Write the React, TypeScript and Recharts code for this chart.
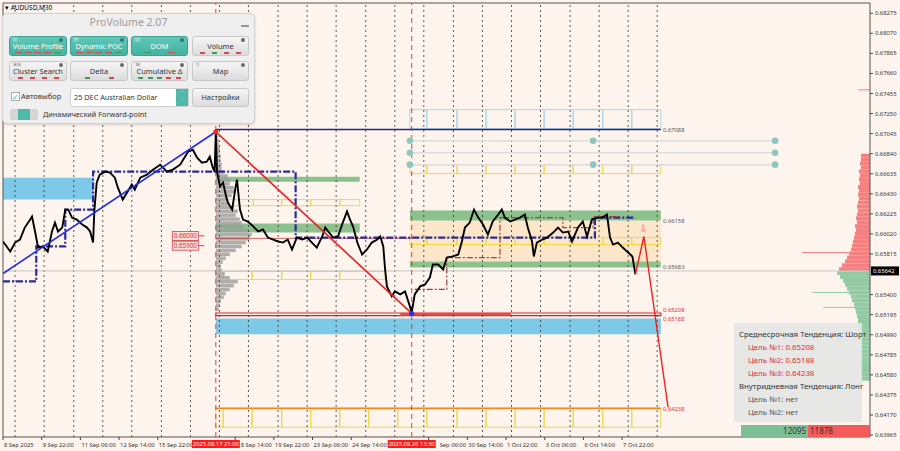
import React from 'react'
import {
  ComposedChart,
  Line,
  XAxis,
  YAxis,
  ReferenceArea,
  ReferenceLine,
  ReferenceDot,
} from 'recharts'

const BG = '#fdf4ee'
const FONT = '"Noto Sans", Roboto, sans-serif'

// x = bar number of the M30 chart (0 = 8 Sep 2025 00:00), y = AUDUSD price
const X_MAX = 1434
const Y_MIN = 0.63945
const Y_MAX = 0.6838

const TIME_TICKS = [0, 64, 128, 192, 256, 384, 448, 512, 576, 704, 768, 832, 896, 960, 1024, 352, 676]
// labels partly hidden behind the red time markers keep only their visible part
const TIME_LABELS = [
  '8 Sep 2025', '9 Sep 22:00', '11 Sep 06:00', '12 Sep 14:00', '15 Sep 22:00', '8 Sep 14:00',
  '19 Sep 22:00', '23 Sep 06:00', '24 Sep 14:00', 'Sep 06:00', '30 Sep 14:00', '1 Oct 22:00',
  '3 Oct 06:00', '6 Oct 14:00', '7 Oct 22:00', '2025.09.17 21:00', '2025.09.26 13:30',
]
const LABEL_SHIFT: Record<string, number> = { '8 Sep 14:00': 4.5, 'Sep 06:00': 10 }
const MARKED_TIMES = ['2025.09.17 21:00', '2025.09.26 13:30']

const PRICE_TICKS = [
  0.68275, 0.6807, 0.67865, 0.6766, 0.67455, 0.6725, 0.67045, 0.6684, 0.66635, 0.6643, 0.66225,
  0.6602, 0.65815, 0.654, 0.65195, 0.6499, 0.64785, 0.6458, 0.64375, 0.6417, 0.63965,
]
const LAST_PRICE = 0.65642

const GRID_BARS = [20, 68, 117, 165, 213, 262, 310, 358, 406, 455, 503, 551, 600, 648, 696, 745, 793, 841, 889, 938, 986, 1034, 1082]

const PRICE_BARS = [
  0, 12, 20, 28, 36, 45, 48, 53, 58, 66, 74, 81, 86, 91, 98, 103, 108, 114, 122, 131,
  139, 144, 149, 151, 155, 160, 169, 177, 185, 190, 198, 205, 213, 218, 227, 238, 248, 260, 271, 281,
  293, 301, 306, 314, 321, 329, 337, 342, 347, 350, 352, 354,
  359, 364, 369, 372, 379, 384, 387, 392, 397, 405, 414, 422, 430, 438, 447, 455, 463, 471, 478, 486,
  495, 503, 511, 519, 528, 533, 538, 546, 554, 562, 569, 574, 579, 586, 594, 602, 610, 619, 624, 629,
  632, 635, 643, 648, 657, 665, 673, 676,
  681, 690, 698, 706, 711, 720, 728, 734, 744, 753, 759, 764, 772, 779, 786, 794, 802, 810, 819, 825,
  830, 839, 847, 855, 863, 868, 875, 878, 883, 892, 900, 910, 918, 926, 935, 941, 946, 951, 959, 966,
  974, 982, 991, 999, 1004, 1009, 1017, 1025, 1034, 1041, 1046,
]
const PRICE_VALUES = [
  0.65943, 0.65841, 0.65932, 0.65963, 0.66085, 0.66167, 0.66198, 0.66045, 0.65881, 0.65892,
  0.65841, 0.66045, 0.66136, 0.66045, 0.66085, 0.66269, 0.66269, 0.66187, 0.66167, 0.66116,
  0.66085, 0.66045, 0.65932, 0.66249, 0.66545, 0.66626, 0.66657, 0.66647, 0.66595, 0.66493,
  0.66371, 0.66442, 0.66524, 0.66473, 0.66595, 0.66626, 0.66677, 0.66728, 0.66657, 0.66677,
  0.66728, 0.6681, 0.66861, 0.66881, 0.66799, 0.66748, 0.66759, 0.6681, 0.66697, 0.66657,
  0.6706, 0.66657,
  0.66504, 0.66544, 0.66402, 0.6634, 0.66269, 0.66473, 0.66575, 0.66269, 0.66167, 0.66147,
  0.66096, 0.66045, 0.66065, 0.65983, 0.65963, 0.65943, 0.65932, 0.65963, 0.65861, 0.65983,
  0.65963, 0.65983, 0.65932, 0.65881, 0.65994, 0.66085, 0.66045, 0.65983, 0.65994, 0.66136,
  0.66249, 0.66167, 0.66096, 0.65932, 0.6581, 0.65861, 0.65932, 0.65963, 0.65994, 0.65892,
  0.65657, 0.65484, 0.65382, 0.65433, 0.65402, 0.65433, 0.6528, 0.65218,
  0.65402, 0.65484, 0.65504, 0.65575, 0.65708, 0.65708, 0.65657, 0.65779, 0.6579, 0.6581,
  0.65943, 0.66085, 0.66136, 0.66269, 0.66187, 0.66116, 0.66014, 0.66147, 0.66218, 0.66269,
  0.66187, 0.66147, 0.66167, 0.66187, 0.66218, 0.66085, 0.65943, 0.6579, 0.65932, 0.65963,
  0.65983, 0.66034, 0.66085, 0.66034, 0.66045, 0.65943, 0.66014, 0.66085, 0.66147, 0.65994,
  0.66167, 0.66187, 0.66187, 0.66218, 0.65983, 0.65912, 0.65932, 0.65881, 0.6583, 0.6579,
  0.65606,
]

const TREND_UP_BARS = [0, 352]
const TREND_UP_VALUES = [0.65616, 0.67064]
const TREND_DOWN_BARS = [352, 676]
const TREND_DOWN_VALUES = [0.67064, 0.65208]
const FORECAST_BARS = [1046, 1060, 1100]
const FORECAST_VALUES = [0.65606, 0.65994, 0.64249]

const POC_BARS = [0, 55, 103, 149, 484, 979, 1046]
const POC_VALUES = [0.65535, 0.65892, 0.66269, 0.66657, 0.65983, 0.66187, 0.66187]
const DAY_POC_BARS = [681, 734, 822, 926, 976, 1021]
const DAY_POC_VALUES = [0.65453, 0.65779, 0.66187, 0.66085, 0.66198, 0.66198]

// session volume profile (left, from 17 Sep)
const LEFT_LEVELS = [
  0.6703, 0.6699, 0.6695, 0.6691, 0.6687, 0.6683, 0.6679, 0.6675, 0.6671, 0.6667, 0.6663, 0.6659,
  0.6655, 0.6651, 0.6647, 0.6643, 0.6639, 0.6635, 0.6631, 0.6627, 0.6623, 0.6619, 0.6615, 0.6611,
  0.6607, 0.6603, 0.6599, 0.6595, 0.6591, 0.6587, 0.6583, 0.6579, 0.6575, 0.6571, 0.6567, 0.6563,
  0.6559, 0.6555, 0.6551, 0.6547, 0.6543, 0.6539, 0.6535, 0.6531, 0.6527,
]
const LEFT_VOLUMES = [
  2, 3, 3, 4, 4, 5, 5, 6, 6, 8, 12, 15, 14, 18, 20, 16, 12, 14, 18, 22, 20, 24, 26, 28,
  33, 36, 34, 30, 26, 20, 14, 10, 7, 5, 6, 9, 14, 22, 18, 14, 10, 8, 5, 4, 3,
]

// DOM profile at the right edge
const ASK_LEVELS = [
  0.6684, 0.668, 0.6676, 0.6672, 0.6668, 0.6664, 0.666, 0.6656, 0.6652, 0.6648, 0.6644, 0.664,
  0.6636, 0.6632, 0.6628, 0.6624, 0.662, 0.6616, 0.6612, 0.6608, 0.6604, 0.66, 0.6596, 0.6592,
  0.6588, 0.6584, 0.658, 0.6576, 0.6572, 0.6568,
]
const ASK_VOLUMES = [9, 9, 10, 9, 11, 10, 11, 10, 12, 11, 12, 11, 12, 13, 12, 13, 14, 13, 15, 14, 15, 16, 17, 18, 19, 21, 23, 25, 28, 31]
const BID_LEVELS = [
  0.6564, 0.656, 0.6556, 0.6552, 0.6548, 0.6544, 0.654, 0.6536, 0.6532, 0.6528, 0.6524, 0.652,
  0.6516, 0.6512, 0.6508, 0.6504, 0.65, 0.6496, 0.6492, 0.6488, 0.6484, 0.648, 0.6476, 0.6472,
  0.6468, 0.6464, 0.646, 0.6456,
]
const BID_VOLUMES = [33, 30, 27, 25, 23, 21, 19, 18, 16, 15, 14, 13, 12, 12, 11, 11, 10, 10, 10, 9, 10, 9, 9, 10, 9, 9, 9, 9]
const SPIKE_LEVELS = [0.67493, 0.6583, 0.65422, 0.65269]
const SPIKE_VOLUMES = [12, 68, 58, 47]
const VOL_TO_BARS = 1.65

// box cells (bar edges)
const CELLS_RIGHT = [673, 701, 751, 799, 847, 895, 943, 992, 1040, 1088]
const CELLS_LEFT_TOP = [352, 364, 414, 461, 509, 557, 590]
const CELLS_LEFT_LOW = [352, 364, 412, 461, 509, 557, 632]
const CELLS_BOTTOM = [352, 364, 412, 461, 509, 557, 605, 653, 701, 751, 799, 847, 895, 943, 992, 1040, 1088]

const DOT_ROWS = [0.66973, 0.6685, 0.66728]
const DOT_BARS = [[673, 976, 1277], [673, 1277], [673, 976, 1277]]

const SIDE_LEVELS = [0.67088, 0.66158, 0.65683, 0.65208, 0.65188, 0.64238]
const SIDE_LABELS = ['0.67088', '0.66158', '0.65683', '0.65208', '0.65188', '0.64238']
const SIDE_COLORS = ['#555', '#555', '#555', '#e03030', '#e03030', '#e03030']
const SIDE_DY = [2.5, 2.5, 2.5, -1, 5.5, 2.5]

const ROUND_LEVELS = [0.66, 0.659]
const ROUND_LABELS = ['0.66000', '0.65900']

const INFO_LINES = [
  { text: 'Среднесрочная Тенденция: Шорт', indent: 0, color: '#333' },
  { text: 'Цель №1: 0.65208', indent: 9, color: '#e03030' },
  { text: 'Цель №2: 0.65188', indent: 9, color: '#e03030' },
  { text: 'Цель №3: 0.64238', indent: 9, color: '#e03030' },
  { text: 'Внутридневная Тенденция: Лонг', indent: 0, color: '#333' },
  { text: 'Цель №1: нет', indent: 9, color: '#555' },
  { text: 'Цель №2: нет', indent: 9, color: '#555' },
]
const BUY_VOLUME = 12095
const SELL_VOLUME = 11878

const PANEL_BUTTONS = [
  { label: 'Volume Profile', tag: 'V', on: true, marks: 'rrrrg' },
  { label: 'Dynamic POC', tag: 'P', on: true, marks: 'rrrrg' },
  { label: 'DOM', tag: 'D', on: true, marks: 'gr' },
  { label: 'Volume', tag: '', on: false, marks: 'rgrr' },
  { label: 'Cluster Search', tag: 'B N', on: false, marks: 'rrrr' },
  { label: 'Delta', tag: '', on: false, marks: 'gr' },
  { label: 'Cumulative Δ', tag: 'M', on: false, marks: 'gggrr' },
  { label: 'Map', tag: 'I', on: false, marks: '' },
]

const toPoints = (xs: number[], ys: number[]) => xs.map((x, i) => ({ x, p: ys[i] }))

function TimeTick(props: any) {
  const { x, y, payload } = props
  const label = TIME_LABELS[TIME_TICKS.indexOf(payload.value)]
  if (MARKED_TIMES.includes(label)) {
    return (
      <g>
        <rect x={x - 24} y={y + 3} width={48} height={8} fill="#ff1a1a" />
        <text x={x} y={y + 9.3} textAnchor="middle" fontSize={5.8} fill="#fff" fontFamily={FONT}>{label}</text>
      </g>
    )
  }
  return (
    <g>
      <line x1={x} x2={x} y1={y} y2={y + 3} stroke="#444" />
      <text x={x + 1 + (LABEL_SHIFT[label] || 0)} y={y + 9.5} fontSize={5.8} fill="#333" fontFamily={FONT}>{label}</text>
    </g>
  )
}

function PriceTick(props: any) {
  const { x, y, payload } = props
  return (
    <g>
      <line x1={x} x2={x + 3} y1={y} y2={y} stroke="#444" />
      <text x={x + 5} y={y + 2} fontSize={5.8} fill="#333" fontFamily={FONT}>{payload.value.toFixed(5)}</text>
    </g>
  )
}

function cellBoxes(cells: number[], top: number, bottom: number, stroke: string, key: string) {
  return cells.slice(0, -1).map((c, i) => (
    <ReferenceArea
      key={key + i}
      x1={c}
      x2={cells[i + 1]}
      y1={bottom}
      y2={top}
      fill="none"
      stroke={stroke}
      strokeWidth={1}
    />
  ))
}

function PanelButton({ b, left, top, width }: any) {
  return (
    <div
      style={{
        position: 'absolute', left, top, width, height: 20, boxSizing: 'border-box', borderRadius: 3,
        background: b.on ? 'linear-gradient(#5fc7b7, #45b2a2)' : 'linear-gradient(#f6f6f6, #dcdcdc)',
        border: '1px solid ' + (b.on ? '#3ea090' : '#c8c8c8'),
        color: b.on ? '#fff' : '#333', fontSize: 7.4, lineHeight: '19px', textAlign: 'center',
      }}
    >
      {b.tag && (
        <span style={{
          position: 'absolute', left: 2, top: 0, fontSize: 3.8, lineHeight: '5px', padding: '0 2px',
          color: b.on ? '#dff3f0' : '#666', background: b.on ? 'rgba(255,255,255,0.18)' : '#e6e6e6',
        }}>{b.tag}</span>
      )}
      <span style={{
        position: 'absolute', right: 3, top: 1, width: 4, height: 4, borderRadius: 2,
        background: b.on ? '#2f7a70' : '#6a6a6a',
      }} />
      {b.label}
      <div style={{ position: 'absolute', left: 4, right: 4, bottom: 1, height: 2, display: 'flex', justifyContent: 'space-around' }}>
        {b.marks.split('').map((m: string, i: number) => (
          <span key={i} style={{ width: b.on ? 7 : 5, height: b.on ? 1 : 2, background: m === 'r' ? '#d24a4a' : '#3d9a55' }} />
        ))}
      </div>
    </div>
  )
}

function Panel() {
  const cols = [6, 67, 128, 189]
  const widths = [58, 58, 57, 57]
  return (
    <div style={{
      position: 'absolute', left: 2, top: 13, width: 253, height: 111, boxSizing: 'border-box',
      background: '#efefef', border: '1px solid #d2d2d2', borderRadius: 5,
      boxShadow: '0 1px 3px rgba(0,0,0,0.15)', fontFamily: FONT,
    }}>
      <div style={{ position: 'absolute', left: 0, right: 0, top: 1, textAlign: 'center', fontSize: 10.5, color: '#9c9c9c' }}>
        ProVolume 2.07
      </div>
      <div style={{ position: 'absolute', right: 5, top: 11, width: 8, height: 1.5, background: '#999' }} />
      {PANEL_BUTTONS.map((b, i) => (
        <PanelButton key={b.label} b={b} left={cols[i % 4]} top={i < 4 ? 22 : 47} width={widths[i % 4]} />
      ))}
      <div style={{
        position: 'absolute', left: 8, top: 78, width: 7, height: 7, background: '#fff', border: '1px solid #aaa',
        fontSize: 8, lineHeight: '7px', color: '#3aa898', textAlign: 'center',
      }}>✓</div>
      <div style={{ position: 'absolute', left: 18, top: 77, fontSize: 7.5, color: '#333' }}>Автовыбор</div>
      <div style={{
        position: 'absolute', left: 67, top: 74, width: 119, height: 19, boxSizing: 'border-box', background: '#fff',
        border: '1px solid #cfcfcf', borderRadius: 2, fontSize: 7.3, lineHeight: '17px', paddingLeft: 3, color: '#333',
      }}>
        25 DEC Australian Dollar
        <div style={{
          position: 'absolute', right: 0, top: 0, width: 12, height: 17, background: '#4fb9a9',
          color: '#fff', fontSize: 5, lineHeight: '8px', textAlign: 'center',
        }}>˄<br />˅</div>
      </div>
      <div style={{
        position: 'absolute', left: 189, top: 74, width: 57, height: 19, boxSizing: 'border-box', borderRadius: 3,
        background: 'linear-gradient(#f6f6f6, #dcdcdc)', border: '1px solid #c8c8c8', fontSize: 7.3,
        lineHeight: '17px', textAlign: 'center', color: '#333',
      }}>Настройки</div>
      <div style={{ position: 'absolute', left: 7, top: 95, width: 28, height: 11, borderRadius: 2, background: '#d4d4d4' }}>
        <div style={{ position: 'absolute', left: 8, top: 0, width: 12, height: 11, background: '#4fb9a9' }} />
      </div>
      <div style={{ position: 'absolute', left: 40, top: 95, fontSize: 7.3, color: '#333' }}>Динамический Forward-point</div>
    </div>
  )
}

function InfoBox() {
  return (
    <div style={{
      position: 'absolute', left: 734, top: 323, width: 128, height: 99, background: 'rgba(229,229,229,0.93)',
      fontFamily: FONT, fontSize: 7.8, paddingTop: 5, boxSizing: 'border-box',
    }}>
      {INFO_LINES.map((l) => (
        <div key={l.text + l.indent} style={{ height: 13, lineHeight: '13px', paddingLeft: 5 + l.indent, color: l.color, whiteSpace: 'nowrap' }}>
          {l.text}
        </div>
      ))}
    </div>
  )
}

export default function App() {
  const price = toPoints(PRICE_BARS, PRICE_VALUES)
  return (
    <div style={{ position: 'absolute', left: 0, top: 0, width: 900, height: 451, background: BG, overflow: 'hidden', fontFamily: FONT }}>
      <ComposedChart width={900} height={451} margin={{ top: 3, right: 0, bottom: 0, left: 3 }}>
        <XAxis
          dataKey="x"
          type="number"
          domain={[0, X_MAX]}
          ticks={TIME_TICKS}
          interval={0}
          height={14}
          tickSize={0}
          tickMargin={0}
          tick={<TimeTick />}
          axisLine={{ stroke: '#555' }}
          tickLine={false}
          allowDataOverflow
        />
        <YAxis
          type="number"
          orientation="right"
          domain={[Y_MIN, Y_MAX]}
          ticks={PRICE_TICKS}
          interval={0}
          width={30}
          tickSize={0}
          tickMargin={0}
          tick={<PriceTick />}
          axisLine={{ stroke: '#555' }}
          tickLine={false}
          allowDataOverflow
        />

        {/* zones */}
        <ReferenceArea x1={0} x2={150} y1={0.66371} y2={0.66595} fill="#7ec8e8" fillOpacity={1} />
        <ReferenceArea x1={352} x2={590} y1={0.66554} y2={0.66605} fill="#8cc18e" fillOpacity={1} />
        <ReferenceArea x1={352} x2={590} y1={0.66035} y2={0.66126} fill="#8cc18e" fillOpacity={1} />
        <ReferenceArea x1={673} x2={1088} y1={0.65739} y2={0.66157} fill="#fce6c9" fillOpacity={1} />
        <ReferenceArea x1={673} x2={1088} y1={0.66157} y2={0.66259} fill="#8cc18e" fillOpacity={1} />
        <ReferenceArea x1={673} x2={1088} y1={0.65678} y2={0.65739} fill="#8cc18e" fillOpacity={1} />
        <ReferenceArea x1={352} x2={1088} y1={0.64994} y2={0.65157} fill="#7ec8e8" fillOpacity={1} />

        {/* vertical grid */}
        {GRID_BARS.map((g) => (
          <ReferenceLine key={'g' + g} x={g} stroke="#333" strokeDasharray="2 3" strokeWidth={0.8} />
        ))}
        <ReferenceLine x={0} stroke="#555" />
        <ReferenceLine y={Y_MAX} stroke="#555" />
        <ReferenceLine y={LAST_PRICE} stroke="#c4c4c4" />

        {cellBoxes(CELLS_RIGHT, 0.6729, 0.67095, '#a9d6ea', 'lb')}
        {cellBoxes(CELLS_RIGHT, 0.66728, 0.66636, '#ecd84c', 'yt')}
        {cellBoxes(CELLS_RIGHT, 0.65984, 0.65912, '#ecd84c', 'ym')}
        {cellBoxes(CELLS_LEFT_TOP, 0.66371, 0.66309, '#ecd84c', 'lt')}
        {cellBoxes(CELLS_LEFT_LOW, 0.65637, 0.65555, '#ecd84c', 'll')}
        {cellBoxes(CELLS_BOTTOM, 0.64239, 0.64045, '#ecd84c', 'bt')}

        {DOT_ROWS.map((r) => (
          <ReferenceLine key={'dr' + r} segment={[{ x: 673, y: r }, { x: 1277, y: r }]} stroke="#dcdcdc" strokeWidth={1.5} />
        ))}

        {/* left session profile */}
        {LEFT_LEVELS.map((lv, i) => (
          <ReferenceArea key={'lp' + i} x1={352} x2={352 + LEFT_VOLUMES[i] * VOL_TO_BARS} y1={lv - 0.00036} y2={lv} fill="#9c9c9c" fillOpacity={0.8} />
        ))}

        {/* right DOM profile */}
        {ASK_LEVELS.map((lv, i) => (
          <ReferenceArea key={'ap' + i} x1={X_MAX - ASK_VOLUMES[i] * VOL_TO_BARS} x2={X_MAX} y1={lv - 0.0004} y2={lv} fill="#f58080" fillOpacity={1} />
        ))}
        {BID_LEVELS.map((lv, i) => (
          <ReferenceArea key={'bp' + i} x1={X_MAX - BID_VOLUMES[i] * VOL_TO_BARS} x2={X_MAX} y1={lv - 0.0004} y2={lv} fill="#92cba3" fillOpacity={1} />
        ))}
        {SPIKE_LEVELS.map((lv, i) => (
          <ReferenceLine
            key={'sp' + i}
            segment={[{ x: X_MAX - SPIKE_VOLUMES[i] * VOL_TO_BARS, y: lv }, { x: X_MAX, y: lv }]}
            stroke={lv > LAST_PRICE ? '#f58080' : '#92cba3'}
            strokeWidth={1}
          />
        ))}

        {/* key levels */}
        <ReferenceLine segment={[{ x: 352, y: 0.67088 }, { x: 1088, y: 0.67088 }]} stroke="#24248c" strokeWidth={1.6} />
        <ReferenceLine segment={[{ x: 352, y: 0.64238 }, { x: 1088, y: 0.64238 }]} stroke="#f08c1e" strokeWidth={1.6} />
        <ReferenceLine segment={[{ x: 352, y: 0.65975 }, { x: 676, y: 0.65975 }]} stroke="#c04040" strokeWidth={0.8} />
        <ReferenceArea x1={352} x2={1088} y1={0.65185} y2={0.65212} fill="none" stroke="#e02020" strokeWidth={1.2} />
        <ReferenceArea x1={657} x2={840} y1={0.65185} y2={0.65212} fill="#e04040" fillOpacity={0.9} />

        <ReferenceLine x={352} stroke="#d03030" strokeDasharray="5 4" strokeWidth={0.9} />
        <ReferenceLine x={676} stroke="#d03030" strokeDasharray="5 4" strokeWidth={0.9} />

        <Line data={toPoints(POC_BARS, POC_VALUES)} dataKey="p" type="stepAfter" stroke="#2b2b94" strokeWidth={2.2}
          strokeDasharray="7 2 2 2" dot={false} activeDot={false} isAnimationActive={false} />
        <Line data={toPoints(DAY_POC_BARS, DAY_POC_VALUES)} dataKey="p" type="stepAfter" stroke="#a0403c" strokeWidth={1.2}
          strokeDasharray="6 2 2 2" dot={false} activeDot={false} isAnimationActive={false} />

        <Line data={price} dataKey="p" type="linear" stroke="#000" strokeWidth={1.9} dot={false} activeDot={false} isAnimationActive={false} />

        <Line data={toPoints(TREND_UP_BARS, TREND_UP_VALUES)} dataKey="p" stroke="#1f2fe6" strokeWidth={1.6} dot={false} activeDot={false} isAnimationActive={false} />
        <Line data={toPoints(TREND_DOWN_BARS, TREND_DOWN_VALUES)} dataKey="p" stroke="#e82020" strokeWidth={1.6} dot={false} activeDot={false} isAnimationActive={false} />
        <Line data={toPoints(FORECAST_BARS, FORECAST_VALUES)} dataKey="p" stroke="#ee2020" strokeWidth={1.4} dot={false} activeDot={false} isAnimationActive={false} />

        {DOT_ROWS.map((r, i) =>
          DOT_BARS[i].map((b) => (
            <ReferenceDot key={'d' + i + b} x={b} y={r} r={3.3} fill="#8ec6be" stroke="none" />
          )),
        )}
        <ReferenceDot x={352} y={0.67064} r={2.5} fill="#ff2020" stroke="none" />
        <ReferenceDot x={676} y={0.65208} r={2.5} fill="#2030ff" stroke="none" />

        {SIDE_LEVELS.map((lv, i) => (
          <ReferenceDot
            key={'sl' + i}
            x={1090}
            y={lv}
            r={0}
            shape={(p: any) => (
              <text x={p.cx + 1} y={p.cy + SIDE_DY[i]} fontSize={5.8} fill={SIDE_COLORS[i]} fontFamily={FONT}>{SIDE_LABELS[i]}</text>
            )}
          />
        ))}
        {ROUND_LEVELS.map((lv, i) => (
          <ReferenceDot
            key={'rl' + i}
            x={323}
            y={lv}
            r={0}
            shape={(p: any) => (
              <g>
                <rect x={p.cx - 26} y={p.cy - 4.5} width={26} height={9} fill="#fbe0dc" stroke="#d84040" strokeWidth={0.8} />
                <text x={p.cx - 13} y={p.cy + 2.3} textAnchor="middle" fontSize={6.3} fill="#d03030" fontFamily={FONT}>{ROUND_LABELS[i]}</text>
                <line x1={p.cx} x2={p.cx + 6} y1={p.cy} y2={p.cy} stroke="#d84040" />
              </g>
            )}
          />
        ))}
        <ReferenceDot
          x={1059}
          y={0.66085}
          r={0}
          shape={(p: any) => (
            <text x={p.cx} y={p.cy + 4} textAnchor="middle" fontSize={10} fill="#ff6a6a">⇩</text>
          )}
        />
        <ReferenceDot
          x={X_MAX}
          y={LAST_PRICE}
          r={0}
          ifOverflow="visible"
          shape={(p: any) => (
            <g>
              <rect x={p.cx + 1} y={p.cy - 4.5} width={28} height={9} fill="#000" />
              <text x={p.cx + 3} y={p.cy + 2} fontSize={5.8} fill="#fff" fontFamily={FONT}>{LAST_PRICE.toFixed(5)}</text>
            </g>
          )}
        />
      </ComposedChart>

      <div style={{ position: 'absolute', left: 5, top: 3, fontSize: 6.5, color: '#000', fontFamily: FONT }}>▾ AUDUSD,M30</div>
      <Panel />
      <InfoBox />
      <div style={{
        position: 'absolute', left: 741, top: 425, width: 67, height: 12, background: '#7dbf95',
        fontSize: 8, lineHeight: '12px', textAlign: 'right', paddingRight: 2, boxSizing: 'border-box', color: '#333', fontFamily: FONT,
      }}>{BUY_VOLUME}</div>
      <div style={{
        position: 'absolute', left: 808, top: 425, width: 62, height: 12, background: '#f55a5a',
        fontSize: 8, lineHeight: '12px', paddingLeft: 2, boxSizing: 'border-box', color: '#333', fontFamily: FONT,
      }}>{SELL_VOLUME}</div>
    </div>
  )
}
